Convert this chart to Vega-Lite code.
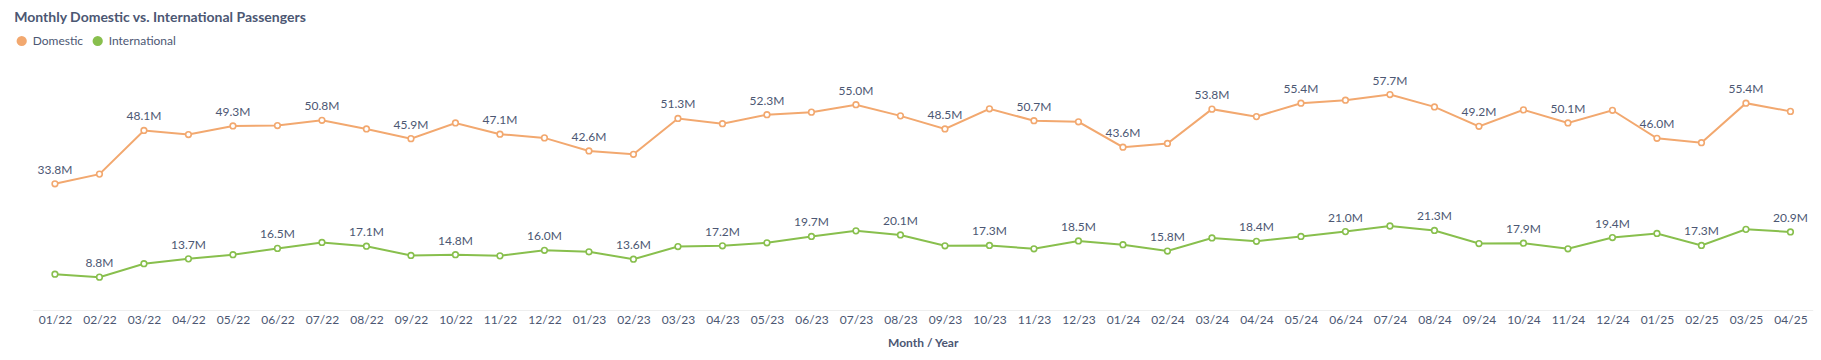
{
  "$schema": "https://vega.github.io/schema/vega-lite/v6.json",
  "width": 1780,
  "height": 224,
  "autosize": {"type": "none"},
  "padding": {"left": 32.7, "top": 86, "right": 8.3, "bottom": 50},
  "background": "white",
  "title": {
    "text": "Monthly Domestic vs. International Passengers",
    "anchor": "start",
    "font": "Lato",
    "fontSize": 14,
    "fontWeight": "bold",
    "color": "#4C5773",
    "dx": -1.5,
    "dy": -6.5
  },
  "config": {"view": {"stroke": null}},
  "data": {
    "values": [
      {"month": "01/22", "series": "Domestic", "value": 33.8, "show": true},
      {"month": "02/22", "series": "Domestic", "value": 36.4, "show": false},
      {"month": "03/22", "series": "Domestic", "value": 48.1, "show": true},
      {"month": "04/22", "series": "Domestic", "value": 47.0, "show": false},
      {"month": "05/22", "series": "Domestic", "value": 49.3, "show": true},
      {"month": "06/22", "series": "Domestic", "value": 49.4, "show": false},
      {"month": "07/22", "series": "Domestic", "value": 50.8, "show": true},
      {"month": "08/22", "series": "Domestic", "value": 48.5, "show": false},
      {"month": "09/22", "series": "Domestic", "value": 45.9, "show": true},
      {"month": "10/22", "series": "Domestic", "value": 50.1, "show": false},
      {"month": "11/22", "series": "Domestic", "value": 47.1, "show": true},
      {"month": "12/22", "series": "Domestic", "value": 46.1, "show": false},
      {"month": "01/23", "series": "Domestic", "value": 42.6, "show": true},
      {"month": "02/23", "series": "Domestic", "value": 41.7, "show": false},
      {"month": "03/23", "series": "Domestic", "value": 51.3, "show": true},
      {"month": "04/23", "series": "Domestic", "value": 49.9, "show": false},
      {"month": "05/23", "series": "Domestic", "value": 52.3, "show": true},
      {"month": "06/23", "series": "Domestic", "value": 53.0, "show": false},
      {"month": "07/23", "series": "Domestic", "value": 55.0, "show": true},
      {"month": "08/23", "series": "Domestic", "value": 52.0, "show": false},
      {"month": "09/23", "series": "Domestic", "value": 48.5, "show": true},
      {"month": "10/23", "series": "Domestic", "value": 53.9, "show": false},
      {"month": "11/23", "series": "Domestic", "value": 50.7, "show": true},
      {"month": "12/23", "series": "Domestic", "value": 50.4, "show": false},
      {"month": "01/24", "series": "Domestic", "value": 43.6, "show": true},
      {"month": "02/24", "series": "Domestic", "value": 44.6, "show": false},
      {"month": "03/24", "series": "Domestic", "value": 53.8, "show": true},
      {"month": "04/24", "series": "Domestic", "value": 51.8, "show": false},
      {"month": "05/24", "series": "Domestic", "value": 55.4, "show": true},
      {"month": "06/24", "series": "Domestic", "value": 56.2, "show": false},
      {"month": "07/24", "series": "Domestic", "value": 57.7, "show": true},
      {"month": "08/24", "series": "Domestic", "value": 54.4, "show": false},
      {"month": "09/24", "series": "Domestic", "value": 49.2, "show": true},
      {"month": "10/24", "series": "Domestic", "value": 53.6, "show": false},
      {"month": "11/24", "series": "Domestic", "value": 50.1, "show": true},
      {"month": "12/24", "series": "Domestic", "value": 53.5, "show": false},
      {"month": "01/25", "series": "Domestic", "value": 46.0, "show": true},
      {"month": "02/25", "series": "Domestic", "value": 44.8, "show": false},
      {"month": "03/25", "series": "Domestic", "value": 55.4, "show": true},
      {"month": "04/25", "series": "Domestic", "value": 53.2, "show": false},
      {"month": "01/22", "series": "International", "value": 9.6, "show": false},
      {"month": "02/22", "series": "International", "value": 8.8, "show": true},
      {"month": "03/22", "series": "International", "value": 12.4, "show": false},
      {"month": "04/22", "series": "International", "value": 13.7, "show": true},
      {"month": "05/22", "series": "International", "value": 14.8, "show": false},
      {"month": "06/22", "series": "International", "value": 16.5, "show": true},
      {"month": "07/22", "series": "International", "value": 18.1, "show": false},
      {"month": "08/22", "series": "International", "value": 17.1, "show": true},
      {"month": "09/22", "series": "International", "value": 14.6, "show": false},
      {"month": "10/22", "series": "International", "value": 14.8, "show": true},
      {"month": "11/22", "series": "International", "value": 14.5, "show": false},
      {"month": "12/22", "series": "International", "value": 16.0, "show": true},
      {"month": "01/23", "series": "International", "value": 15.6, "show": false},
      {"month": "02/23", "series": "International", "value": 13.6, "show": true},
      {"month": "03/23", "series": "International", "value": 17.0, "show": false},
      {"month": "04/23", "series": "International", "value": 17.2, "show": true},
      {"month": "05/23", "series": "International", "value": 18.0, "show": false},
      {"month": "06/23", "series": "International", "value": 19.7, "show": true},
      {"month": "07/23", "series": "International", "value": 21.2, "show": false},
      {"month": "08/23", "series": "International", "value": 20.1, "show": true},
      {"month": "09/23", "series": "International", "value": 17.2, "show": false},
      {"month": "10/23", "series": "International", "value": 17.3, "show": true},
      {"month": "11/23", "series": "International", "value": 16.4, "show": false},
      {"month": "12/23", "series": "International", "value": 18.5, "show": true},
      {"month": "01/24", "series": "International", "value": 17.5, "show": false},
      {"month": "02/24", "series": "International", "value": 15.8, "show": true},
      {"month": "03/24", "series": "International", "value": 19.3, "show": false},
      {"month": "04/24", "series": "International", "value": 18.4, "show": true},
      {"month": "05/24", "series": "International", "value": 19.7, "show": false},
      {"month": "06/24", "series": "International", "value": 21.0, "show": true},
      {"month": "07/24", "series": "International", "value": 22.5, "show": false},
      {"month": "08/24", "series": "International", "value": 21.3, "show": true},
      {"month": "09/24", "series": "International", "value": 17.8, "show": false},
      {"month": "10/24", "series": "International", "value": 17.9, "show": true},
      {"month": "11/24", "series": "International", "value": 16.4, "show": false},
      {"month": "12/24", "series": "International", "value": 19.4, "show": true},
      {"month": "01/25", "series": "International", "value": 20.5, "show": false},
      {"month": "02/25", "series": "International", "value": 17.3, "show": true},
      {"month": "03/25", "series": "International", "value": 21.6, "show": false},
      {"month": "04/25", "series": "International", "value": 20.9, "show": true}
    ]
  },
  "encoding": {
    "x": {
      "field": "month",
      "type": "ordinal",
      "sort": null,
      "scale": {"type": "point", "padding": 0.5},
      "axis": {
        "title": "Month / Year",
        "labelAngle": 0,
        "ticks": false,
        "domainColor": "#EEEEEE",
        "domainWidth": 1,
        "labelFont": "Lato",
        "labelFontSize": 12,
        "labelColor": "#4C5773",
        "labelPadding": 4,
        "titleFont": "Lato",
        "titleFontSize": 12,
        "titleFontWeight": "bold",
        "titleColor": "#4C5773",
        "titlePadding": 12,
        "grid": false
      }
    },
    "y": {
      "field": "value",
      "type": "quantitative",
      "scale": {"domain": [0, 60], "nice": false, "zero": true},
      "axis": null
    },
    "color": {
      "field": "series",
      "type": "nominal",
      "scale": {"domain": ["Domestic", "International"], "range": ["#F2A86F", "#88BF4D"]},
      "legend": {
        "title": null,
        "orient": "none",
        "direction": "horizontal",
        "legendX": -17,
        "legendY": -51,
        "symbolType": "circle",
        "symbolSize": 105,
        "labelFont": "Lato",
        "labelFontSize": 12,
        "labelColor": "#4C5773",
        "labelOffset": 5,
        "columnPadding": 8,
        "padding": 0,
        "encode": {
          "symbols": {
            "update": {
              "fill": {"scale": "color", "field": "value"},
              "fillOpacity": {"value": 1},
              "strokeWidth": {"value": 0},
              "opacity": {"value": 1}
            }
          }
        }
      }
    }
  },
  "layer": [
    {"mark": {"type": "line", "strokeWidth": 2}},
    {"mark": {"type": "point", "filled": false, "fill": "white", "size": 32, "strokeWidth": 1.6, "opacity": 1}},
    {
      "transform": [{"filter": {"field": "show", "equal": true}}],
      "mark": {
        "type": "text",
        "dy": -14,
        "font": "Lato",
        "fontSize": 12,
        "color": "#4C5773",
        "baseline": "middle",
        "text": {"expr": "format(datum.value, '.1f') + 'M'"}
      },
      "encoding": {"color": {"value": "#4C5773"}}
    }
  ]
}
